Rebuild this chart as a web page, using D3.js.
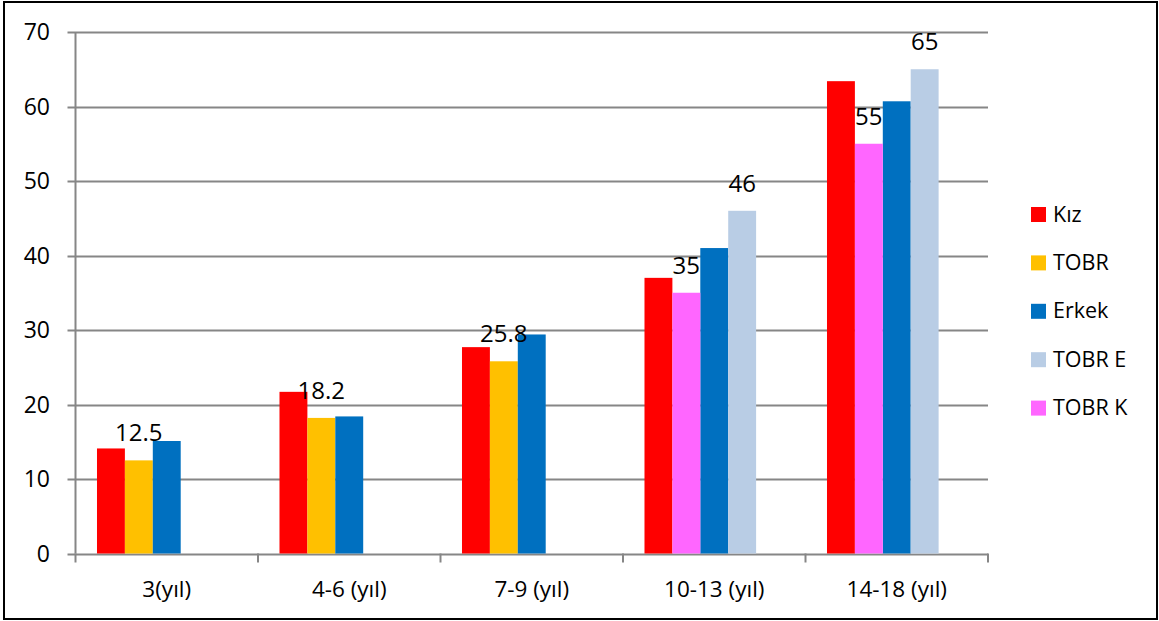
<!DOCTYPE html>
<html>
<head>
<meta charset="utf-8">
<script src="https://cdn.jsdelivr.net/npm/d3@7"></script>
<style>
  html, body { margin: 0; padding: 0; background: #fff; }
  text { font-family: "Open Sans", "Noto Sans", sans-serif; fill: #000; }
</style>
</head>
<body>
<script>
// chart data
const categories = ["3(yıl)", "4-6 (yıl)", "7-9 (yıl)", "10-13 (yıl)", "14-18 (yıl)"];
const kiz   = [14.1, 21.7, 27.7, 37.0, 63.4];
const tobr  = [12.5, 18.2, 25.8, null, null];
const erkek = [15.1, 18.4, 29.4, 41.0, 60.7];
const tobrE = [null, null, null, 46, 65];
const tobrK = [null, null, null, 35, 55];
const yTicks = [0, 10, 20, 30, 40, 50, 60, 70];

// series, with the bar slot each one sits in inside a category group
const series = [
  { name: "Kız",    values: kiz,   color: "#FF0000", slot: 0, label: false },
  { name: "TOBR",   values: tobr,  color: "#FFC000", slot: 1, label: true },
  { name: "Erkek",  values: erkek, color: "#0070C0", slot: 2, label: false },
  { name: "TOBR E", values: tobrE, color: "#B9CDE5", slot: 3, label: true },
  { name: "TOBR K", values: tobrK, color: "#FF66FF", slot: 1, label: true }
];

const width = 1159, height = 621;
const svg = d3.select("body").append("svg")
  .attr("width", width)
  .attr("height", height);

// outer frame
svg.append("rect")
  .attr("x", 4).attr("y", 2)
  .attr("width", 1153).attr("height", 617)
  .attr("fill", "#fff")
  .attr("stroke", "#000")
  .attr("stroke-width", 2);

const plotLeft = 75.5, plotRight = 988, plotTop = 32, plotBottom = 553.5;

const x0 = d3.scaleBand().domain(categories).range([plotLeft, plotRight]);
const x1 = d3.scaleBand().domain(d3.range(5)).range([0, x0.bandwidth()])
  .paddingInner(0).paddingOuter(0.77);
const y = d3.scaleLinear().domain([0, 70]).range([plotBottom, plotTop]);

const axisColor = "#868686";

// gridlines + y ticks
svg.append("g").selectAll("line")
  .data(yTicks)
  .join("line")
  .attr("x1", plotLeft - 8).attr("x2", plotRight)
  .attr("y1", d => Math.round(y(d)) + 0.5)
  .attr("y2", d => Math.round(y(d)) + 0.5)
  .attr("stroke", axisColor)
  .attr("stroke-width", 2);

svg.append("g").selectAll("text")
  .data(yTicks)
  .join("text")
  .attr("x", 50)
  .attr("y", d => y(d))
  .attr("dy", "0.35em")
  .attr("text-anchor", "end")
  .style("font-size", "23px")
  .text(d => d);

// bars
const bars = [];
series.forEach(s => {
  s.values.forEach((v, i) => {
    if (v == null) return;
    bars.push({ cat: categories[i], value: v, s: s });
  });
});

svg.append("g").selectAll("rect")
  .data(bars)
  .join("rect")
  .attr("x", d => x0(d.cat) + x1(d.s.slot))
  .attr("width", x1.bandwidth())
  .attr("y", d => y(d.value))
  .attr("height", d => y(0) - y(d.value))
  .attr("fill", d => d.s.color);

// y axis line
svg.append("line")
  .attr("x1", plotLeft).attr("x2", plotLeft)
  .attr("y1", plotTop).attr("y2", plotBottom)
  .attr("stroke", axisColor)
  .attr("stroke-width", 2);

// category ticks
svg.append("g").selectAll("line")
  .data(d3.range(categories.length + 1))
  .join("line")
  .attr("x1", i => plotLeft + i * x0.step())
  .attr("x2", i => plotLeft + i * x0.step())
  .attr("y1", plotBottom).attr("y2", plotBottom + 9)
  .attr("stroke", axisColor)
  .attr("stroke-width", 2);

svg.append("g").selectAll("text")
  .data(categories)
  .join("text")
  .attr("x", d => x0(d) + x0.bandwidth() / 2)
  .attr("y", 597)
  .attr("text-anchor", "middle")
  .style("font-size", "22.5px")
  .text(d => d);

// value labels
svg.append("g").selectAll("text")
  .data(bars.filter(d => d.s.label))
  .join("text")
  .attr("x", d => x0(d.cat) + x1(d.s.slot) + x1.bandwidth() / 2)
  .attr("y", d => y(d.value) - 19)
  .attr("text-anchor", "middle")
  .style("font-size", "24px")
  .text(d => d.value);

// legend
const legend = svg.append("g").selectAll("g")
  .data(series)
  .join("g")
  .attr("transform", (d, i) => `translate(1031, ${214 + i * 48.4})`);

legend.append("rect")
  .attr("x", 0).attr("y", -7)
  .attr("width", 15).attr("height", 15)
  .attr("fill", d => d.color);

legend.append("text")
  .attr("x", 22)
  .attr("y", 0)
  .attr("dy", "0.35em")
  .style("font-size", "21.5px")
  .text(d => d.name);
</script>
</body>
</html>
